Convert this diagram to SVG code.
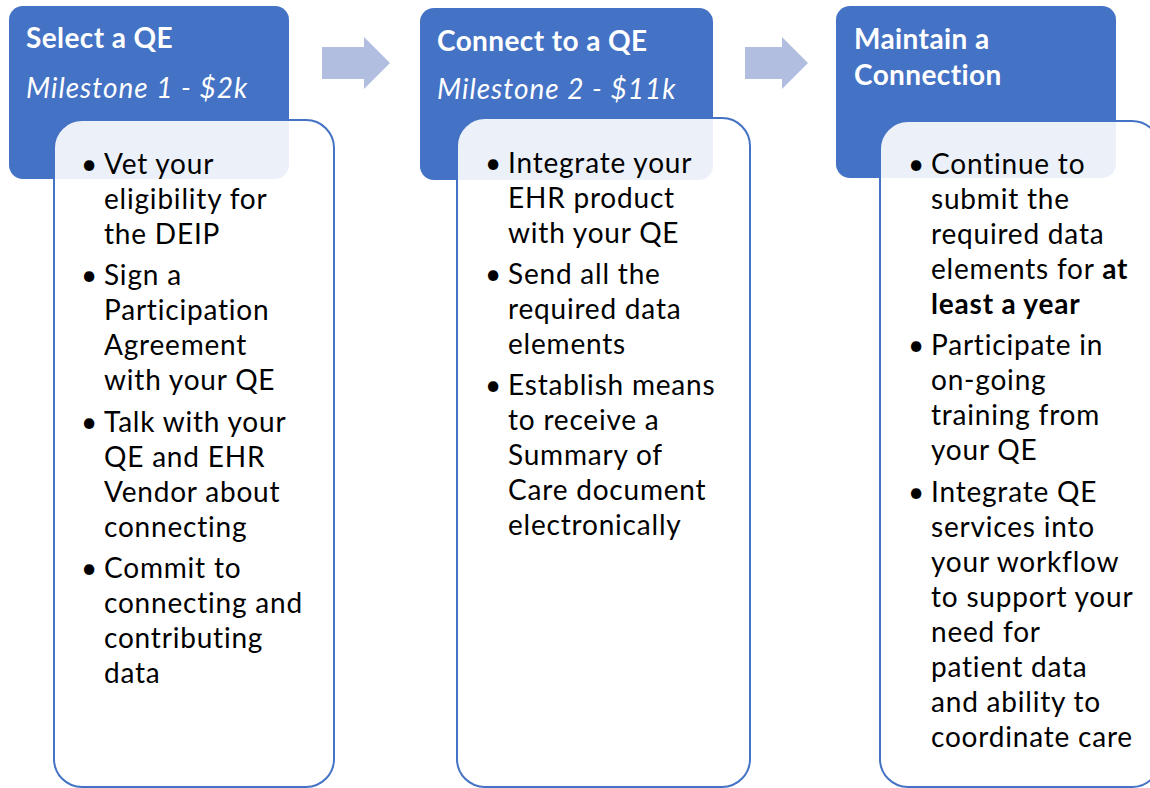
<svg xmlns="http://www.w3.org/2000/svg" width="1150" height="788" viewBox="0 0 1150 788">
<defs>
<style>
.hdr{fill:#4472C4;}
.card{fill:#FFFFFF;fill-opacity:0.9;stroke:#4472C4;stroke-width:2;}
.arrow{fill:#B1BEE0;}
.ht{font-family:Lato,"Liberation Sans",sans-serif;font-size:28px;font-weight:bold;letter-spacing:0.4px;fill:#FFFFFF;}
.hi{font-family:Lato,"Liberation Sans",sans-serif;font-size:28px;font-style:italic;letter-spacing:1px;fill:#FFFFFF;}
.bt{font-family:Lato,"Liberation Sans",sans-serif;font-size:28px;letter-spacing:0.8px;fill:#000000;}
.b{font-weight:bold;}
</style>
</defs>
<rect width="1150" height="788" fill="#FFFFFF"/>
<g id="connectors">
<polygon class="arrow" points="322,47 364,47 364,37 390,63 364,89 364,79 322,79"/>
<polygon class="arrow" points="745,47 782,47 782,37 808,63 782,89 782,79 745,79"/>
</g>
<g id="step1">
<rect class="hdr" x="9" y="6" width="280" height="173" rx="14"/>
<text class="ht" x="26" y="48">Select a QE</text>
<text class="hi" x="26" y="98">Milestone 1 - $2k</text>
<rect class="card" x="54" y="120" width="280" height="667" rx="28"/>
<text class="bt">
<tspan x="81" y="174">•</tspan><tspan x="104" y="174">Vet your</tspan>
<tspan x="104" y="209">eligibility for</tspan>
<tspan x="104" y="244">the DEIP</tspan>
<tspan x="81" y="285">•</tspan><tspan x="104" y="285">Sign a</tspan>
<tspan x="104" y="320">Participation</tspan>
<tspan x="104" y="355">Agreement</tspan>
<tspan x="104" y="390">with your QE</tspan>
<tspan x="81" y="432">•</tspan><tspan x="104" y="432">Talk with your</tspan>
<tspan x="104" y="467">QE and EHR</tspan>
<tspan x="104" y="502">Vendor about</tspan>
<tspan x="104" y="537">connecting</tspan>
<tspan x="81" y="578">•</tspan><tspan x="104" y="578">Commit to</tspan>
<tspan x="104" y="613">connecting and</tspan>
<tspan x="104" y="648">contributing</tspan>
<tspan x="104" y="683">data</tspan>
</text>
</g>
<g id="step2">
<rect class="hdr" x="420" y="8" width="293" height="172" rx="14"/>
<text class="ht" x="437" y="51">Connect to a QE</text>
<text class="hi" x="437" y="99">Milestone 2 - $11k</text>
<rect class="card" x="457" y="118" width="293" height="669" rx="28"/>
<text class="bt">
<tspan x="485" y="173">•</tspan><tspan x="508" y="173">Integrate your</tspan>
<tspan x="508" y="208">EHR product</tspan>
<tspan x="508" y="243">with your QE</tspan>
<tspan x="485" y="284">•</tspan><tspan x="508" y="284">Send all the</tspan>
<tspan x="508" y="319">required data</tspan>
<tspan x="508" y="354">elements</tspan>
<tspan x="485" y="395">•</tspan><tspan x="508" y="395">Establish means</tspan>
<tspan x="508" y="430">to receive a</tspan>
<tspan x="508" y="465">Summary of</tspan>
<tspan x="508" y="500">Care document</tspan>
<tspan x="508" y="535">electronically</tspan>
</text>
</g>
<g id="step3">
<rect class="hdr" x="836" y="6" width="280" height="172" rx="14"/>
<text class="ht" x="854" y="49">Maintain a</text>
<text class="ht" x="854" y="85">Connection</text>
<rect class="card" x="880" y="121" width="280" height="666" rx="28"/>
<text class="bt">
<tspan x="908" y="174">•</tspan><tspan x="931" y="174">Continue to</tspan>
<tspan x="931" y="209">submit the</tspan>
<tspan x="931" y="244">required data</tspan>
<tspan x="931" y="279">elements for <tspan class="b">at</tspan></tspan>
<tspan x="931" y="314" class="b">least a year</tspan>
<tspan x="908" y="355">•</tspan><tspan x="931" y="355">Participate in</tspan>
<tspan x="931" y="390">on-going</tspan>
<tspan x="931" y="425">training from</tspan>
<tspan x="931" y="460">your QE</tspan>
<tspan x="908" y="502">•</tspan><tspan x="931" y="502">Integrate QE</tspan>
<tspan x="931" y="537">services into</tspan>
<tspan x="931" y="572">your workflow</tspan>
<tspan x="931" y="607">to support your</tspan>
<tspan x="931" y="642">need for</tspan>
<tspan x="931" y="677">patient data</tspan>
<tspan x="931" y="712">and ability to</tspan>
<tspan x="931" y="747">coordinate care</tspan>
</text>
</g>
</svg>
